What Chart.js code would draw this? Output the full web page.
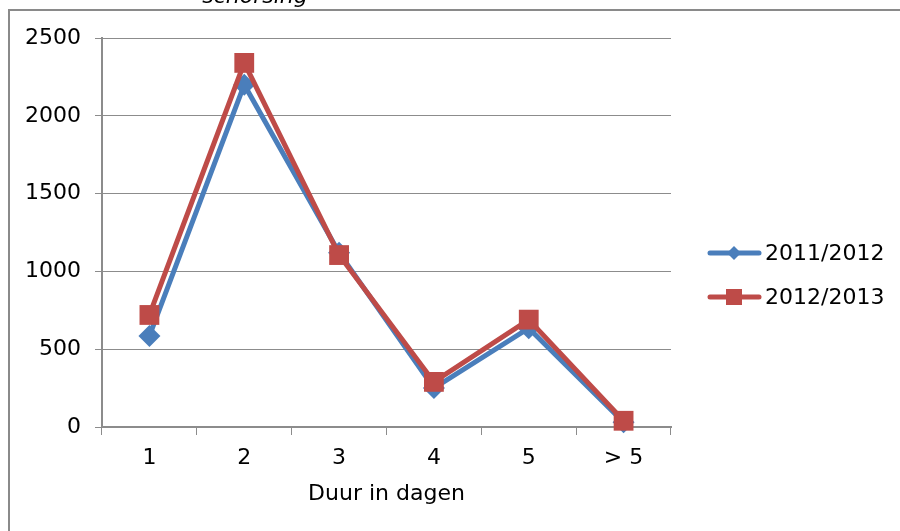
<!DOCTYPE html>
<html>
<head>
<meta charset="utf-8">
<script src="https://cdn.jsdelivr.net/npm/chart.js@4"></script>
<style>
  html, body { margin: 0; padding: 0; background: #fff; overflow: hidden; }
  #wrap { width: 900px; height: 531px; position: relative; overflow: hidden; }
  canvas { display: block; }
</style>
</head>
<body>
<div id="wrap"><canvas id="c" width="900" height="531"></canvas></div>
<script>
const categories = ['1', '2', '3', '4', '5', '> 5'];
const series2011 = [585, 2200, 1120, 250, 635, 30];
const series2012 = [720, 2340, 1105, 290, 690, 40];
const seriesNames = ['2011/2012', '2012/2013'];
const yTicks = [0, 500, 1000, 1500, 2000, 2500];
const chartTitle = 'schorsing';
const xTitle = 'Duur in dagen';

const BLUE = '#4A7EBB';
const RED = '#BE4B48';
const GRID = '#8c8c8c';
const FONT = 'DejaVu Sans';

const framePlugin = {
  id: 'frame',
  beforeDraw(chart) {
    const ctx = chart.ctx;
    ctx.save();
    ctx.fillStyle = '#fff';
    ctx.fillRect(0, 0, chart.width, chart.height);
    ctx.restore();
  },
  afterDraw(chart) {
    const ctx = chart.ctx;
    ctx.save();
    // outer frame (open on the right and bottom, cropped like the original)
    ctx.strokeStyle = '#8a8a8a';
    ctx.lineWidth = 2;
    ctx.beginPath();
    ctx.moveTo(9, 531);
    ctx.lineTo(9, 10);
    ctx.lineTo(900, 10);
    ctx.stroke();
    // keep the right edge clean
    ctx.fillStyle = '#fff';
    ctx.fillRect(890, 12, 10, 519);
    // cropped title
    ctx.fillStyle = '#000';
    ctx.font = 'italic 22px "' + FONT + '"';
    ctx.textAlign = 'center';
    ctx.textBaseline = 'alphabetic';
    ctx.fillText(chartTitle, 255, 3);
    // legend
    const entries = [
      { name: seriesNames[0], color: BLUE, style: 'diamond', y: 253 },
      { name: seriesNames[1], color: RED, style: 'square', y: 297 }
    ];
    entries.forEach(e => {
      ctx.strokeStyle = e.color;
      ctx.lineWidth = 5;
      ctx.lineCap = 'round';
      ctx.beginPath();
      ctx.moveTo(710, e.y);
      ctx.lineTo(759, e.y);
      ctx.stroke();
      ctx.fillStyle = e.color;
      ctx.beginPath();
      if (e.style === 'diamond') {
        const r = 7;
        ctx.moveTo(734, e.y - r);
        ctx.lineTo(734 + r, e.y);
        ctx.lineTo(734, e.y + r);
        ctx.lineTo(734 - r, e.y);
        ctx.closePath();
      } else {
        ctx.rect(734 - 8, e.y - 8, 16, 16);
      }
      ctx.fill();
      ctx.fillStyle = '#000';
      ctx.font = '22px "' + FONT + '"';
      ctx.textAlign = 'left';
      ctx.textBaseline = 'middle';
      ctx.fillText(e.name, 765, e.y + 1);
    });
    ctx.restore();
  }
};

new Chart(document.getElementById('c'), {
  type: 'line',
  data: {
    labels: categories,
    datasets: [
      {
        label: seriesNames[0],
        data: series2011,
        borderColor: BLUE,
        backgroundColor: BLUE,
        borderWidth: 5,
        pointStyle: 'rectRot',
        pointRadius: 11,
        pointHoverRadius: 11,
        pointBorderWidth: 0,
        tension: 0,
        order: 1,
        clip: false
      },
      {
        label: seriesNames[1],
        data: series2012,
        borderColor: RED,
        backgroundColor: RED,
        borderWidth: 5,
        pointStyle: 'rect',
        pointRadius: 14,
        pointHoverRadius: 14,
        pointBorderWidth: 0,
        tension: 0,
        order: 0,
        clip: false
      }
    ]
  },
  options: {
    responsive: false,
    animation: false,
    devicePixelRatio: 1,
    layout: { padding: { left: 0, top: 38, right: 229, bottom: 0 } },
    plugins: {
      legend: { display: false },
      tooltip: { enabled: false },
      title: { display: false }
    },
    scales: {
      x: {
        offset: true,
        grid: {
          offset: true,
          drawOnChartArea: false,
          drawTicks: true,
          tickLength: 8,
          color: GRID,
          lineWidth: 1
        },
        border: { color: GRID, width: 2 },
        ticks: {
          color: '#000',
          font: { family: FONT, size: 22 },
          padding: 10,
          maxRotation: 0
        },
        title: {
          display: true,
          text: xTitle,
          color: '#000',
          font: { family: FONT, size: 22 },
          padding: { top: 0, bottom: 24 }
        },
        afterFit(scale) { scale.height = 104; }
      },
      y: {
        min: 0,
        max: 2500,
        afterBuildTicks(scale) { scale.ticks = yTicks.map(v => ({ value: v })); },
        grid: {
          color: GRID,
          lineWidth: 1,
          tickLength: 7
        },
        border: { color: GRID, width: 2 },
        ticks: {
          color: '#000',
          font: { family: FONT, size: 22 },
          padding: 14,
          callback: v => String(v)
        },
        afterFit(scale) { scale.width = 102; }
      }
    }
  },
  plugins: [framePlugin]
});
</script>
</body>
</html>
